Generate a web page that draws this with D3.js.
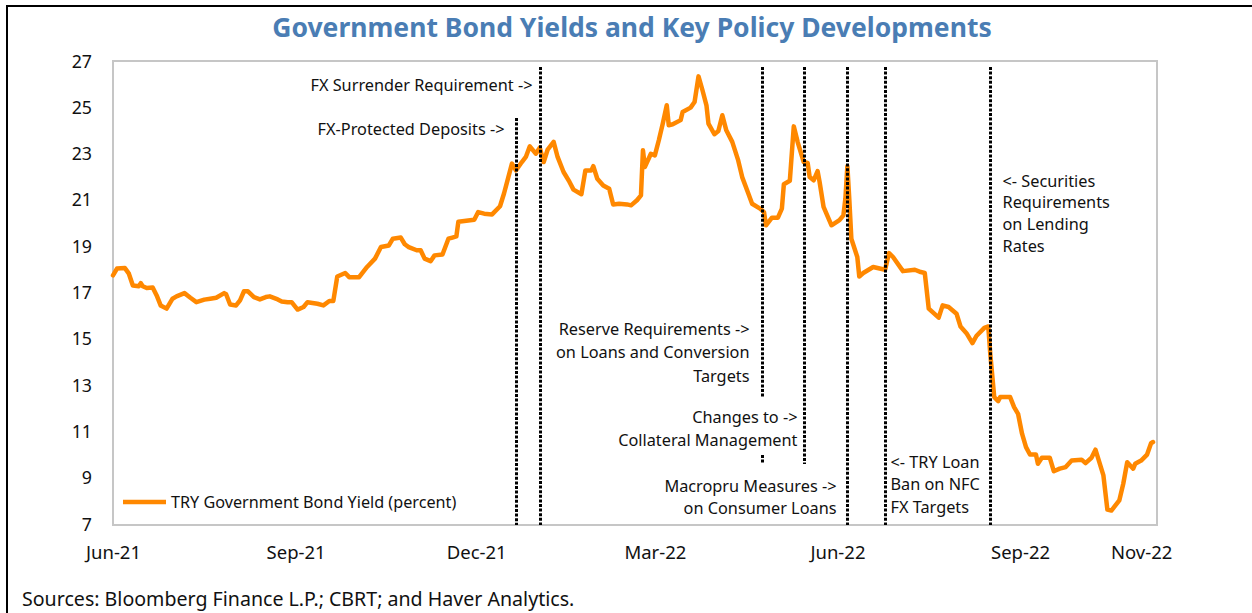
<!DOCTYPE html>
<html><head><meta charset="utf-8">
<script src="https://cdn.jsdelivr.net/npm/d3@7"></script>
<style>
body{margin:0;background:#fff}
svg{display:block}
text{font-family:"Noto Sans",sans-serif;fill:#111}
</style>
</head><body>
<svg id="c" width="1252" height="613"></svg>
<script>
// ---------------- DATA ----------------
const dates = ["2021-06-01","2021-06-03","2021-06-07","2021-06-09","2021-06-11","2021-06-14","2021-06-15","2021-06-16","2021-06-18","2021-06-21",
"2021-06-23","2021-06-25","2021-06-28","2021-07-01","2021-07-03","2021-07-07","2021-07-10","2021-07-13","2021-07-17","2021-07-20",
"2021-07-23","2021-07-27","2021-07-28","2021-07-30","2021-08-02","2021-08-04","2021-08-06","2021-08-08","2021-08-11","2021-08-14",
"2021-08-17","2021-08-19","2021-08-23","2021-08-25","2021-08-28","2021-08-30","2021-09-02","2021-09-05","2021-09-07","2021-09-12",
"2021-09-15","2021-09-18","2021-09-20","2021-09-22","2021-09-26","2021-09-28","2021-10-03","2021-10-07","2021-10-11","2021-10-14",
"2021-10-18","2021-10-20","2021-10-24","2021-10-26","2021-10-28","2021-11-01","2021-11-03","2021-11-05","2021-11-08","2021-11-10",
"2021-11-14","2021-11-17","2021-11-19","2021-11-21","2021-11-22","2021-11-30","2021-12-02","2021-12-05","2021-12-09","2021-12-13",
"2021-12-15","2021-12-19","2021-12-21","2021-12-24","2021-12-26","2021-12-28","2021-12-31","2022-01-02","2022-01-04","2022-01-06",
"2022-01-09","2022-01-11","2022-01-14","2022-01-17","2022-01-19","2022-01-23","2022-01-25","2022-01-28","2022-01-29","2022-01-31",
"2022-02-03","2022-02-06","2022-02-08","2022-02-11","2022-02-15","2022-02-17","2022-02-20","2022-02-22","2022-02-23","2022-02-24",
"2022-02-27","2022-03-01","2022-03-03","2022-03-05","2022-03-07","2022-03-08","2022-03-10","2022-03-14","2022-03-15","2022-03-19",
"2022-03-21","2022-03-23","2022-03-25","2022-03-27","2022-03-28","2022-03-31","2022-04-02","2022-04-04","2022-04-06","2022-04-09",
"2022-04-12","2022-04-14","2022-04-17","2022-04-19","2022-04-23","2022-04-25","2022-04-26","2022-04-29","2022-05-02","2022-05-04",
"2022-05-05","2022-05-08","2022-05-10","2022-05-12","2022-05-15","2022-05-17","2022-05-18","2022-05-20","2022-05-22","2022-05-23",
"2022-05-25","2022-05-29","2022-06-02","2022-06-04","2022-06-05","2022-06-06","2022-06-07","2022-06-08","2022-06-11","2022-06-12",
"2022-06-14","2022-06-19","2022-06-25","2022-06-27","2022-06-29","2022-07-04","2022-07-10","2022-07-13","2022-07-15","2022-07-17",
"2022-07-22","2022-07-24","2022-07-27","2022-07-31","2022-08-02","2022-08-05","2022-08-08","2022-08-10","2022-08-14","2022-08-16",
"2022-08-17","2022-08-19","2022-08-21","2022-08-22","2022-08-27","2022-08-29","2022-08-31","2022-09-02","2022-09-04","2022-09-06",
"2022-09-09","2022-09-10","2022-09-12","2022-09-16","2022-09-18","2022-09-21","2022-09-24","2022-09-27","2022-10-02","2022-10-04",
"2022-10-07","2022-10-09","2022-10-13","2022-10-15","2022-10-17","2022-10-21","2022-10-23","2022-10-25","2022-10-28","2022-10-29",
"2022-11-01","2022-11-04","2022-11-06","2022-11-07"];

const yields = [17.76,18.05,18.07,17.83,17.32,17.29,17.42,17.29,17.21,17.23,
16.89,16.46,16.32,16.75,16.85,16.99,16.79,16.60,16.71,16.75,
16.79,16.99,16.94,16.50,16.46,16.68,17.07,17.07,16.82,16.72,
16.82,16.85,16.72,16.63,16.60,16.60,16.28,16.39,16.60,16.53,
16.46,16.65,16.65,17.71,17.86,17.68,17.68,18.12,18.48,18.98,
19.05,19.34,19.39,19.10,18.98,18.84,18.84,18.48,18.37,18.62,
18.66,19.34,19.39,19.44,20.07,20.16,20.49,20.42,20.39,20.74,
21.29,22.58,22.29,22.65,22.87,23.33,23.01,23.27,22.65,23.19,
23.52,22.87,22.22,21.79,21.46,21.26,22.29,22.29,22.47,21.93,
21.64,21.50,20.82,20.85,20.82,20.78,21.00,21.21,23.16,22.44,
23.01,22.94,23.59,24.31,25.10,24.24,24.28,24.46,24.81,25.00,
25.24,26.35,25.75,25.10,24.31,23.85,23.99,24.67,24.02,23.52,
22.72,22.00,21.31,20.85,20.64,20.49,19.92,20.25,20.25,20.64,
21.69,21.84,24.19,23.50,22.65,22.61,22.00,21.86,22.26,21.79,
20.71,19.92,20.14,20.35,21.07,22.47,21.00,19.34,18.55,17.71,
17.86,18.12,18.00,18.72,18.55,17.94,18.00,17.90,17.86,16.32,
15.93,16.46,16.39,16.10,15.55,15.26,14.83,15.14,15.49,15.55,
14.37,12.50,12.33,12.50,12.50,12.07,11.78,10.92,10.34,10.02,
10.02,9.62,9.88,9.88,9.30,9.41,9.48,9.76,9.80,9.65,
9.88,10.23,9.12,7.64,7.60,8.04,8.76,9.69,9.41,9.62,
9.76,10.02,10.51,10.56];

const yTicks = [7,9,11,13,15,17,19,21,23,25,27];
const xTickDates = ["2021-06-01","2021-09-01","2021-12-01","2022-03-01","2022-06-01","2022-09-01","2022-11-01"];
const xDomain = ["2021-06-01","2022-11-09"];
const yDomain = [7,27];

const eventDates = ["2021-12-21","2022-01-02","2022-04-24","2022-05-15","2022-06-06","2022-06-25","2022-08-17"];
const eventLabels = [
  ["FX-Protected Deposits ->"],
  ["FX Surrender Requirement ->"],
  ["Reserve Requirements ->","on Loans and Conversion","Targets"],
  ["Changes to ->","Collateral Management"],
  ["Macropru Measures ->","on Consumer Loans"],
  ["<- TRY Loan","Ban on NFC","FX Targets"],
  ["<- Securities","Requirements","on Lending","Rates"]
];

const titleText = "Government Bond Yields and Key Policy Developments";
const seriesName = "TRY Government Bond Yield (percent)";
const sourceText = "Sources: Bloomberg Finance L.P.; CBRT; and Haver Analytics.";

// ---------------- LAYOUT ----------------
const plot = {left:113, top:61, right:1157, bottom:525};
const COLORS = {line:"#ff8800", title:"#4a7db4", frame:"#c6c6c6"};
const evLayout = [
  {segs:[[118,525]], anchor:"end",   dx:-12, y:129, lh:23},
  {segs:[[67,525]],  anchor:"end",   dx:-8,  y:85,  lh:23},
  {segs:[[67,397],[455,464]], anchor:"end", dx:-13, y:329, lh:23.5},
  {segs:[[67,464]],  anchor:"end",   dx:-7,  y:417, lh:23},
  {segs:[[67,525]],  anchor:"end",   dx:-11, y:486, lh:22.5},
  {segs:[[67,525]],  anchor:"start", dx:5,   y:462, lh:22.5},
  {segs:[[67,525]],  anchor:"start", dx:12,  y:181, lh:21.7}
];
const FS = {title:26.5, tick:18.5, note:16.3, legend:16.2, source:19.6};

const parse = d3.timeParse("%Y-%m-%d");
const svg = d3.select("#c");

const x = d3.scaleTime().domain(xDomain.map(parse)).range([plot.left, plot.right]);
const y = d3.scaleLinear().domain(yDomain).range([plot.bottom - 0.5, plot.top + 0.3]);

// outer frame
svg.append("rect").attr("x",7).attr("y",6).attr("width",1400).attr("height",800)
  .attr("fill","none").attr("stroke","#000").attr("stroke-width",2);

// title
svg.append("text").attr("x",632).attr("y",28).attr("dy","0.35em")
  .attr("text-anchor","middle").style("font-size",FS.title+"px").style("font-weight","700")
  .style("fill",COLORS.title).text(titleText);

// plot frame
svg.append("rect").attr("x",plot.left).attr("y",plot.top)
  .attr("width",plot.right-plot.left).attr("height",plot.bottom-plot.top)
  .attr("fill","none").attr("stroke",COLORS.frame).attr("stroke-width",2);

// y axis
const yAx = svg.append("g").attr("transform",`translate(${plot.left},0)`)
  .call(d3.axisLeft(y).tickValues(yTicks).tickSize(0).tickPadding(21).tickFormat(d3.format("d")));
yAx.select(".domain").remove();
yAx.selectAll("text").style("font-size","17.8px").style("font-family","'Noto Sans',sans-serif").attr("fill","#111");

// x axis
const xAx = svg.append("g").attr("transform",`translate(0,${plot.bottom})`)
  .call(d3.axisBottom(x).tickValues(xTickDates.map(parse)).tickSize(0).tickFormat(d3.timeFormat("%b-%y")));
xAx.select(".domain").remove();
xAx.selectAll("text").attr("y",28).attr("dy","0.35em").style("font-size",FS.tick+"px")
  .style("font-family","'Noto Sans',sans-serif").attr("fill","#111");

// series line
const data = dates.map((d,i)=>({date:parse(d), v:yields[i]}));
svg.append("path").datum(data)
  .attr("fill","none").attr("stroke",COLORS.line).attr("stroke-width",4.5)
  .attr("stroke-linejoin","round").attr("stroke-linecap","round")
  .attr("d", d3.line().x(d=>x(d.date)).y(d=>y(d.v)));

// event lines + labels
eventDates.forEach((ds,i)=>{
  const ex = Math.round(x(parse(ds))) + 0.5;
  const L = evLayout[i];
  L.segs.forEach(s=>{
    svg.append("line").attr("x1",ex).attr("x2",ex).attr("y1",s[0]).attr("y2",s[1])
      .attr("stroke","#000").attr("stroke-width",3).attr("stroke-dasharray","3 1.6");
  });
  const t = svg.append("text").attr("text-anchor",L.anchor).style("font-size",FS.note+"px");
  eventLabels[i].forEach((ln,j)=>{
    t.append("tspan").attr("x",ex+L.dx).attr("y",L.y + j*L.lh).attr("dy","0.35em").text(ln);
  });
});

// legend
svg.append("line").attr("x1",123).attr("x2",166).attr("y1",502).attr("y2",502)
  .attr("stroke",COLORS.line).attr("stroke-width",4.5);
svg.append("text").attr("x",171).attr("y",502).attr("dy","0.35em")
  .style("font-size",FS.legend+"px").text(seriesName);

// source
svg.append("text").attr("x",22).attr("y",599).attr("dy","0.35em")
  .style("font-size",FS.source+"px").text(sourceText);
</script>
</body></html>
